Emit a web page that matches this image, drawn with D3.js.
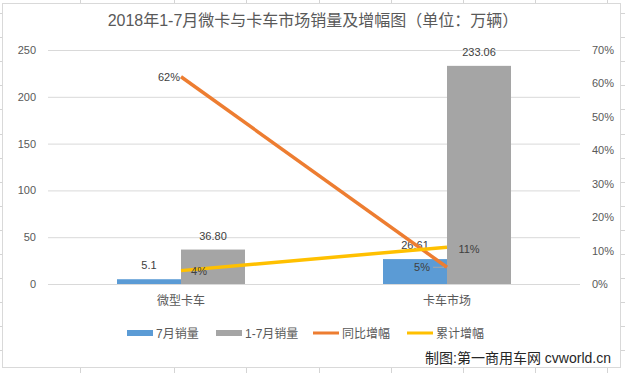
<!DOCTYPE html>
<html>
<head>
<meta charset="utf-8">
<script src="https://cdn.jsdelivr.net/npm/d3@7"></script>
<style>
  body { margin: 0; background: #fff; }
  text { font-family: "Liberation Sans", "Noto Sans CJK SC", sans-serif; fill: #595959; }
</style>
</head>
<body>
<div id="chart"></div>
<script>
const categories = ['微型卡车', '卡车市场'];
const julySales = [5.1, 26.61];
const julyLabels = ['5.1', '26.61'];
const ytdSales = [36.80, 233.06];
const ytdLabels = ['36.80', '233.06'];
const yoyGrowth = [0.62, 0.05];
const cumGrowth = [0.04, 0.11];
const leftTicks = [0, 50, 100, 150, 200, 250];
const rightTicks = [0, 0.1, 0.2, 0.3, 0.4, 0.5, 0.6, 0.7];
const legendNames = ['7月销量', '1-7月销量', '同比增幅', '累计增幅'];

const width = 625;
const height = 373;
const colors = { july: '#5b9bd5', ytd: '#a5a5a5', yoy: '#ed7d31', cum: '#ffc000' };

const svg = d3.select('#chart').append('svg')
  .attr('width', width)
  .attr('height', height);

// spreadsheet grid behind the chart
const colLines = [80, 174, 246, 319, 391, 463, 535, 607];
const rowLines = d3.range(13, 373, 24.1);
svg.selectAll('.col').data(colLines).enter().append('line')
  .attr('x1', d => d + 0.5).attr('x2', d => d + 0.5).attr('y1', 0).attr('y2', height)
  .attr('stroke', '#d4d4d4');
svg.selectAll('.row').data(rowLines).enter().append('line')
  .attr('x1', 0).attr('x2', width).attr('y1', d => Math.round(d) + 0.5).attr('y2', d => Math.round(d) + 0.5)
  .attr('stroke', '#d4d4d4');

// chart box
svg.append('rect')
  .attr('x', 2.5).attr('y', 3.5).attr('width', 618).attr('height', 364)
  .attr('fill', '#fff').attr('stroke', '#d9d9d9');

svg.append('text')
  .attr('x', 313).attr('y', 26)
  .attr('text-anchor', 'middle')
  .style('font-size', '16px')
  .text('2018年1-7月微卡与卡车市场销量及增幅图（单位：万辆）');

const plotL = 48, plotR = 580, plotT = 50, plotB = 284;

const x = d3.scaleBand().domain(categories).range([plotL, plotR]);
const yL = d3.scaleLinear().domain([0, 250]).range([plotB, plotT]);
const yR = d3.scaleLinear().domain([0, 0.7]).range([plotB, plotT]);
const barW = 64;

// gridlines
svg.selectAll('.grid').data(leftTicks).enter().append('line')
  .attr('x1', plotL).attr('x2', plotR)
  .attr('y1', d => yL(d) + 0.5).attr('y2', d => yL(d) + 0.5)
  .attr('stroke', '#d9d9d9');

// left axis
const gl = svg.append('g').attr('transform', `translate(${plotL - 10},0)`)
  .call(d3.axisLeft(yL).tickValues(leftTicks).tickSize(0).tickPadding(2));
gl.select('.domain').remove();
gl.selectAll('text').style('font-size', '11px').style('fill', '#595959').style('font-family', '"Liberation Sans", sans-serif');

// right axis
const gr = svg.append('g').attr('transform', `translate(${plotR + 10},0)`)
  .call(d3.axisRight(yR).tickValues(rightTicks).tickSize(0).tickPadding(2).tickFormat(d3.format('.0%')));
gr.select('.domain').remove();
gr.selectAll('text').style('font-size', '11px').style('fill', '#595959').style('font-family', '"Liberation Sans", sans-serif');

// category labels
svg.selectAll('.cat').data(categories).enter().append('text')
  .attr('x', d => x(d) + x.bandwidth() / 2)
  .attr('y', 305)
  .attr('text-anchor', 'middle')
  .style('font-size', '12px')
  .text(d => d);

const cx = d => x(d) + x.bandwidth() / 2;

// bars
svg.selectAll('.july').data(categories).enter().append('rect')
  .attr('x', d => cx(d) - barW)
  .attr('y', (d, i) => yL(julySales[i]))
  .attr('width', barW)
  .attr('height', (d, i) => plotB - yL(julySales[i]))
  .attr('fill', colors.july);
svg.selectAll('.ytd').data(categories).enter().append('rect')
  .attr('x', d => cx(d))
  .attr('y', (d, i) => yL(ytdSales[i]))
  .attr('width', barW)
  .attr('height', (d, i) => plotB - yL(ytdSales[i]))
  .attr('fill', colors.ytd);

// bar labels
svg.selectAll('.jl').data(categories).enter().append('text')
  .attr('x', d => cx(d) - barW / 2)
  .attr('y', (d, i) => yL(julySales[i]) - 10)
  .attr('text-anchor', 'middle')
  .style('font-size', '11px')
  .style('fill', '#404040')
  .text((d, i) => julyLabels[i]);
svg.selectAll('.yl').data(categories).enter().append('text')
  .attr('x', d => cx(d) + barW / 2)
  .attr('y', (d, i) => yL(ytdSales[i]) - 10)
  .attr('text-anchor', 'middle')
  .style('font-size', '11px')
  .style('fill', '#404040')
  .text((d, i) => ytdLabels[i]);

// lines
const line = scale => d3.line()
  .x((v, i) => cx(categories[i]))
  .y(v => scale(v));
svg.append('path').datum(yoyGrowth)
  .attr('d', line(yR))
  .attr('fill', 'none').attr('stroke', colors.yoy).attr('stroke-width', 3.5);
svg.append('path').datum(cumGrowth)
  .attr('d', line(yR))
  .attr('fill', 'none').attr('stroke', colors.cum).attr('stroke-width', 3.5);

// line labels
const fmt = d3.format('.0%');
svg.append('text')
  .attr('x', cx(categories[0]) - 1).attr('y', yR(yoyGrowth[0]) + 4)
  .attr('text-anchor', 'end').style('font-size', '11px').style('fill', '#404040')
  .text(fmt(yoyGrowth[0]));
svg.append('text')
  .attr('x', cx(categories[1]) - 25).attr('y', yR(yoyGrowth[1]) + 4)
  .attr('text-anchor', 'middle').style('font-size', '11px').style('fill', '#404040')
  .text(fmt(yoyGrowth[1]));
svg.append('line')
  .attr('x1', cx(categories[1]) - 14).attr('x2', cx(categories[1]) - 3)
  .attr('y1', yR(yoyGrowth[1])).attr('y2', yR(yoyGrowth[1]))
  .attr('stroke', '#a6a6a6');
svg.append('text')
  .attr('x', cx(categories[0]) + 18).attr('y', yR(cumGrowth[0]) + 4)
  .attr('text-anchor', 'middle').style('font-size', '11px').style('fill', '#404040')
  .text(fmt(cumGrowth[0]));
svg.append('text')
  .attr('x', cx(categories[1]) + 22).attr('y', yR(cumGrowth[1]) + 6)
  .attr('text-anchor', 'middle').style('font-size', '11px').style('fill', '#404040')
  .text(fmt(cumGrowth[1]));

// legend
const legendX = [127, 216, 313, 407];
const legendColors = [colors.july, colors.ytd, colors.yoy, colors.cum];
const lg = svg.selectAll('.lg').data(legendNames).enter().append('g')
  .attr('transform', (d, i) => `translate(${legendX[i]},333)`);
lg.append('rect')
  .attr('x', 0).attr('width', 26)
  .attr('y', (d, i) => i < 2 ? -3 : -1.5)
  .attr('height', (d, i) => i < 2 ? 6 : 3)
  .attr('fill', (d, i) => legendColors[i]);
lg.append('text')
  .attr('x', 29).attr('y', 4.5)
  .style('font-size', '12px')
  .text(d => d);

svg.append('text')
  .attr('x', 611).attr('y', 363)
  .attr('text-anchor', 'end')
  .style('font-size', '14px')
  .style('fill', '#262626')
  .text('制图:第一商用车网 cvworld.cn');
</script>
</body>
</html>
